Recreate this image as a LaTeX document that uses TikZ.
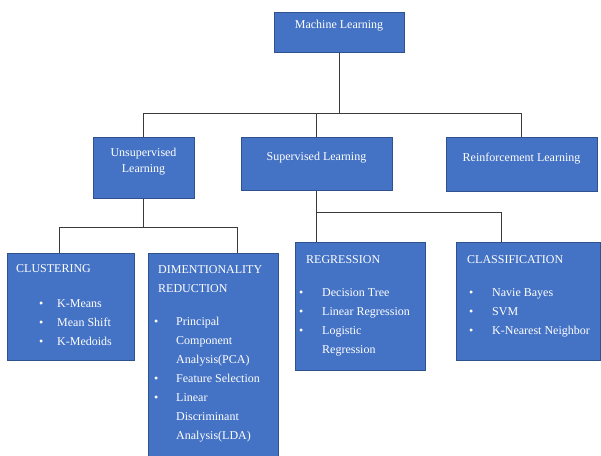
\documentclass[tikz,border=0pt]{standalone}
\usepackage{fontspec}
\setmainfont{Liberation Serif}
\usepackage{xcolor}
\usetikzlibrary{positioning}
\definecolor{mlblue}{HTML}{4472C4}
\definecolor{mledge}{HTML}{2F528F}
\definecolor{mlline}{HTML}{3A3A3A}

\begin{document}
\begin{tikzpicture}[x=1pt, y=-1pt,
    box/.style={rectangle, draw=mledge, fill=mlblue, line width=0.6pt, anchor=north west, inner sep=0pt},
    title/.style={text=white, font=\fontsize{12}{16}\selectfont, anchor=base, inner sep=0pt},
    head/.style={text=white, font=\fontsize{12}{19}\selectfont, anchor=base west, inner sep=0pt},
    items/.style={text=white, font=\fontsize{12}{19}\selectfont, anchor=base west, inner sep=0pt},
    link/.style={draw=mlline, line width=1pt}
]
\useasboundingbox (0,0) rectangle (601,455);

% Root
\node[box, minimum width=130pt, minimum height=40pt] (ml) at (274,12) {};
\node[title] (mltext) at (339,28) {Machine Learning};

% Second level
\node[box, minimum width=101pt, minimum height=61pt] (unsup) at (93,137) {};
\node[title] (unsuptext) at (143.5,156) {\begin{tabular}[t]{@{}c@{}}Unsupervised\\Learning\end{tabular}};

\node[box, minimum width=151pt, minimum height=53pt] (sup) at (241,137) {};
\node[title] (suptext) at (316.5,160) {Supervised Learning};

\node[box, minimum width=151pt, minimum height=54pt] (reinf) at (446,137) {};
\node[title] (reinftext) at (521.5,161) {Reinforcement Learning};

% Third level boxes
\node[box, minimum width=127pt, minimum height=107pt] (clu) at (7,253) {};
\node[box, minimum width=130pt, minimum height=204pt] (dim) at (148,253) {};
\node[box, minimum width=130pt, minimum height=128pt] (reg) at (295,242) {};
\node[box, minimum width=144pt, minimum height=118pt] (clf) at (456,242) {};

% Clustering
\node[head] (cluhead) at (16,272) {CLUSTERING};
\node[items] (cluitems) at (39,307) {\begin{tabular}[t]{@{}p{18pt}@{}l@{}}
\textbullet & K-Means\\
\textbullet & Mean Shift\\
\textbullet & K-Medoids
\end{tabular}};

% Dimentionality reduction
\node[head] (dimhead) at (158,273) {\begin{tabular}[t]{@{}l@{}}DIMENTIONALITY\\REDUCTION\end{tabular}};
\node[items] (dimitems) at (154,325) {\begin{tabular}[t]{@{}p{22pt}@{}l@{}}
\textbullet & Principal\\
 & Component\\
 & Analysis(PCA)\\
\textbullet & Feature Selection\\
\textbullet & Linear\\
 & Discriminant\\
 & Analysis(LDA)
\end{tabular}};

% Regression
\node[head] (reghead) at (306,263) {REGRESSION};
\node[items] (regitems) at (299,296) {\begin{tabular}[t]{@{}p{23pt}@{}l@{}}
\textbullet & Decision Tree\\
\textbullet & Linear Regression\\
\textbullet & Logistic\\
 & Regression
\end{tabular}};

% Classification
\node[head] (clfhead) at (467,263) {CLASSIFICATION};
\node[items] (clfitems) at (469,296) {\begin{tabular}[t]{@{}p{23pt}@{}l@{}}
\textbullet & Navie Bayes\\
\textbullet & SVM\\
\textbullet & K-Nearest Neighbor
\end{tabular}};

% Drop points on the lower boxes
\coordinate (clutop) at (59,253);
\coordinate (dimtop) at (237,253);
\coordinate (regtop) at (316.5,242);
\coordinate (clftop) at (501,242);

% Tree lines
\draw[link] (ml.south) -- ++(0,61) -| (unsup.north);
\draw[link] (ml.south) -- ++(0,61) -| (sup.north);
\draw[link] (ml.south) -- ++(0,61) -| (reinf.north);

\draw[link] (unsup.south) -- ++(0,29) -| (clutop);
\draw[link] (unsup.south) -- ++(0,29) -| (dimtop);

\draw[link] (sup.south) -- ++(0,22) -| (regtop);
\draw[link] (sup.south) -- ++(0,22) -| (clftop);

\end{tikzpicture}
\end{document}
